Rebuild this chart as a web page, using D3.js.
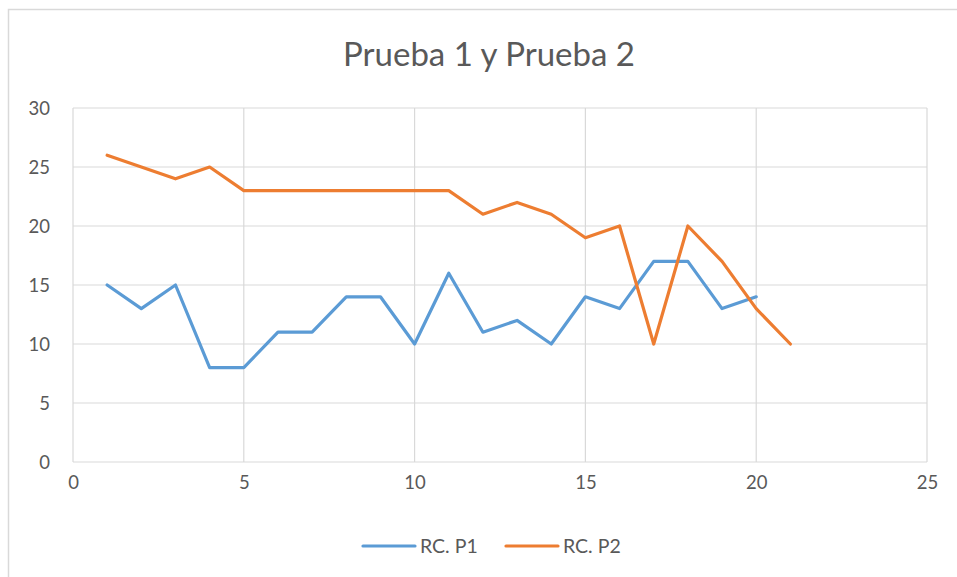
<!DOCTYPE html>
<html>
<head>
<meta charset="utf-8">
<script src="https://cdn.jsdelivr.net/npm/d3@7"></script>
<style>
  body { margin: 0; background: #fff; }
  text { font-family: Lato, "Open Sans", sans-serif; fill: #595959; }
</style>
</head>
<body>
<svg id="grafica"></svg>
<script>
const svg_w = 957;
const svg_h = 577;

// márgenes del área de trazado
const margin = {l:73, r:30, t:108, b:115};
const viz_w = svg_w - margin.l - margin.r;
const viz_h = svg_h - margin.t - margin.b;

// datos
const x_p1 = [1,2,3,4,5,6,7,8,9,10,11,12,13,14,15,16,17,18,19,20];
const rc_p1 = [15,13,15,8,8,11,11,14,14,10,16,11,12,10,14,13,17,17,13,14];
const x_p2 = [1,2,3,4,5,6,7,8,9,10,11,12,13,14,15,16,17,18,19,20,21];
const rc_p2 = [26,25,24,25,23,23,23,23,23,23,23,21,22,21,19,20,10,20,17,13,10];
const x_ticks = [0,5,10,15,20,25];
const y_ticks = [0,5,10,15,20,25,30];
const series_names = ["RC. P1", "RC. P2"];
const series_colors = ["#5b9bd5", "#ed7d31"];

let svg = d3.select("#grafica")
  .attr("width", svg_w)
  .attr("height", svg_h);

// marco del gráfico
svg.append("path")
  .attr("d", `M8.5,${svg_h} V9.5 H${svg_w}`)
  .attr("fill", "none")
  .attr("stroke", "#d9d9d9")
  .attr("stroke-width", 1.5);

svg.append("text")
  .attr("x", 489)
  .attr("y", 66)
  .attr("text-anchor", "middle")
  .style("font-size", "33px")
  .text("Prueba 1 y Prueba 2");

let x_scale = d3.scaleLinear().domain([0,25]).range([0, viz_w]);
let y_scale = d3.scaleLinear().domain([0,30]).range([viz_h, 0]);

let g = svg.append("g").attr("transform", `translate(${margin.l},${margin.t})`);

// cuadrícula
g.append("g")
  .selectAll("line")
  .data(y_ticks)
  .enter()
  .append("line")
  .attr("x1", 0).attr("x2", viz_w)
  .attr("y1", d=>y_scale(d)).attr("y2", d=>y_scale(d))
  .attr("stroke", "#d9d9d9").attr("stroke-width", 1.2);

g.append("g")
  .selectAll("line")
  .data(x_ticks)
  .enter()
  .append("line")
  .attr("x1", d=>x_scale(d)).attr("x2", d=>x_scale(d))
  .attr("y1", 0).attr("y2", viz_h)
  .attr("stroke", "#d9d9d9").attr("stroke-width", 1.2);

// ejes
let x_axis = g.append("g")
  .attr("transform", `translate(0,${viz_h})`)
  .call(d3.axisBottom(x_scale).tickValues(x_ticks).tickSize(0).tickPadding(14));
let y_axis = g.append("g")
  .call(d3.axisLeft(y_scale).tickValues(y_ticks).tickSize(0).tickPadding(23));
[x_axis, y_axis].forEach(a => {
  a.select(".domain").remove();
  a.selectAll("text").style("font-size", "18.5px").attr("fill", "#595959")
    .style("font-family", "Lato, 'Open Sans', sans-serif");
});
y_axis.selectAll("text").attr("dy", "0.35em");

// líneas
let line = d3.line().x(d=>x_scale(d[0])).y(d=>y_scale(d[1]));
let series = [d3.zip(x_p1, rc_p1), d3.zip(x_p2, rc_p2)];

g.selectAll(".serie")
  .data(series)
  .enter()
  .append("path")
  .attr("class", "serie")
  .attr("d", line)
  .attr("fill", "none")
  .attr("stroke", (d,i)=>series_colors[i])
  .attr("stroke-width", 3.2)
  .attr("stroke-linejoin", "round")
  .attr("stroke-linecap", "round");

// leyenda
let legend = svg.append("g")
  .selectAll("g")
  .data(series_names)
  .enter()
  .append("g")
  .attr("transform", (d,i)=>`translate(${363 + i*143},546)`);

legend.append("line")
  .attr("x1", 0).attr("x2", 52)
  .attr("stroke", (d,i)=>series_colors[i])
  .attr("stroke-width", 3.2)
  .attr("stroke-linecap", "round");

legend.append("text")
  .attr("x", 57)
  .attr("dy", "0.35em")
  .style("font-size", "19.5px")
  .text(d=>d);
</script>
</body>
</html>
